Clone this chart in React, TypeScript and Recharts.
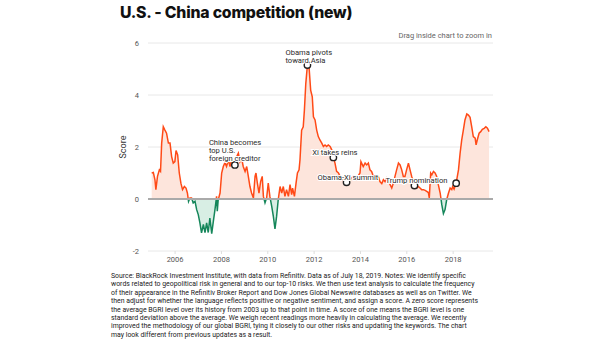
import {
  Area,
  CartesianGrid,
  ComposedChart,
  ReferenceDot,
  ReferenceLine,
  XAxis,
  YAxis,
} from 'recharts'

// decimal years
const years = [
  2004.99, 2005.06, 2005.13, 2005.17, 2005.24, 2005.32, 2005.37, 2005.42, 2005.49, 2005.56,
  2005.63, 2005.71, 2005.78, 2005.85, 2005.92, 2005.99, 2006.04, 2006.11, 2006.18, 2006.25,
  2006.32, 2006.4, 2006.47, 2006.53, 2006.58, 2006.64, 2006.71, 2006.78, 2006.86, 2006.93,
  2007.0, 2007.07, 2007.14, 2007.22, 2007.29, 2007.36, 2007.43, 2007.5, 2007.58, 2007.65,
  2007.72, 2007.79, 2007.82, 2007.86, 2007.94, 2008.01, 2008.08, 2008.15, 2008.22, 2008.3,
  2008.37, 2008.44, 2008.51, 2008.58, 2008.66, 2008.73, 2008.8, 2008.87, 2008.94, 2009.02,
  2009.09, 2009.16, 2009.23, 2009.3, 2009.38, 2009.45, 2009.49, 2009.55, 2009.62, 2009.69,
  2009.76, 2009.81, 2009.88, 2009.95, 2010.02, 2010.09, 2010.17, 2010.24, 2010.31, 2010.38,
  2010.45, 2010.53, 2010.6, 2010.67, 2010.74, 2010.81, 2010.89, 2010.96, 2011.03, 2011.07,
  2011.15, 2011.22, 2011.28, 2011.35, 2011.39, 2011.46, 2011.53, 2011.58, 2011.64, 2011.71,
  2011.78, 2011.85, 2011.92, 2011.97, 2012.04, 2012.11, 2012.18, 2012.25, 2012.33, 2012.4,
  2012.47, 2012.54, 2012.61, 2012.69, 2012.76, 2012.83, 2012.9, 2012.97, 2013.05, 2013.12,
  2013.19, 2013.4, 2013.55, 2013.69, 2013.84, 2013.98, 2014.02, 2014.12, 2014.2, 2014.27,
  2014.34, 2014.41, 2014.48, 2014.56, 2014.63, 2014.7, 2014.77, 2014.84, 2014.92, 2014.99,
  2015.06, 2015.13, 2015.2, 2015.28, 2015.35, 2015.42, 2015.49, 2015.56, 2015.64, 2015.71,
  2015.78, 2015.85, 2015.92, 2015.99, 2016.07, 2016.14, 2016.21, 2016.28, 2016.33, 2016.43,
  2016.5, 2016.57, 2016.64, 2016.72, 2016.79, 2016.86, 2016.93, 2016.97, 2017.03, 2017.08,
  2017.15, 2017.22, 2017.29, 2017.36, 2017.44, 2017.51, 2017.58, 2017.65, 2017.72, 2017.8,
  2017.87, 2017.94, 2017.98, 2018.04, 2018.13, 2018.23, 2018.3, 2018.37, 2018.44, 2018.51,
  2018.59, 2018.66, 2018.73, 2018.8, 2018.87, 2018.95, 2018.99, 2019.04, 2019.12, 2019.19,
  2019.26, 2019.34, 2019.41, 2019.48, 2019.55,
]

const scores = [
  1.0, 1.02, 0.74, 0.36, 0.87, 1.12, 1.06, 2.15, 2.78, 2.65,
  2.53, 2.15, 2.15, 1.63, 1.38, 1.44, 1.86, 1.7, 1.0, 0.61,
  0.36, 0.48, 0.42, 0.23, -0.09, 0.04, 0.04, -0.15, -0.09, -0.41,
  -0.6, -0.92, -1.3, -0.98, -1.29, -0.92, -1.29, -0.73, -1.33, -0.86,
  -0.41, 0.1, -0.47, -0.03, 0.23, 1.0, 1.25, 1.4, 1.25, 1.51,
  1.25, 1.51, 1.38, 1.31, 1.63, 1.76, 1.44, 1.57, 1.25, 1.06,
  1.25, 0.87, 0.48, 0.23, 0.04, 0.87, 1.0, 0.61, 0.23, 0.67,
  0.87, 0.1, -0.15, 0.04, 0.61, 0.1, -0.28, -0.67, -1.15, -0.67,
  -0.03, 0.48, 0.23, 0.48, 0.1, 0.36, 0.1, 0.55, 0.17, 0.42,
  0.1, 0.61, 1.0, 1.12, 1.51, 2.65, 2.78, 3.42, 4.44, 5.15,
  5.08, 4.19, 3.93, 3.16, 3.04, 2.65, 2.4, 2.27, 2.15, 2.02,
  2.08, 2.02, 2.08, 2.02, 1.89, 1.6, 1.38, 1.06, 1.0, 0.87,
  0.74, 0.64, 0.74, 0.87, 0.8, 1.0, 1.44, 1.25, 1.38, 1.31,
  1.38, 1.12, 1.06, 0.87, 0.87, 0.8, 0.87, 0.67, 0.59, 0.74,
  0.67, 0.8, 0.67, 0.55, 0.42, 0.61, 0.87, 1.12, 1.38, 1.31,
  1.12, 0.87, 0.87, 1.12, 1.38, 1.12, 0.87, 0.67, 0.52, 0.42,
  0.48, 0.42, 0.36, 0.36, 0.33, 0.29, 0.25, 0.04, 1.0, 0.93,
  1.06, 1.0, 0.87, 0.55, 0.23, -0.22, -0.56, -0.41, -0.03, 0.23,
  0.42, 0.36, 0.48, 0.38, 0.61, 1.12, 1.76, 2.27, 2.65, 3.04,
  3.27, 3.23, 3.14, 2.78, 2.4, 2.34, 2.08, 2.27, 2.53, 2.59,
  2.68, 2.72, 2.78, 2.72, 2.59,
]

const yearTicks = [2006, 2008, 2010, 2012, 2014, 2016, 2018]
const scoreTicks = [-2, 0, 2, 4, 6]

const eventYears = [2008.58, 2011.71, 2012.83, 2013.4, 2016.33, 2018.13]
const eventScores = [1.31, 5.15, 1.6, 0.64, 0.52, 0.61]
const eventLabels = [
  ['China becomes', 'top U.S.', 'foreign creditor'],
  ['Obama pivots', 'toward Asia'],
  ['Xi takes reins'],
  ['Obama-Xi summit'],
  ['Trump nomination'],
  [],
]
// label placement relative to the marker: [dx, first baseline dy]
const labelOffsets = [
  [-26, -19.5],
  [-22, -10.5],
  [-21, -2.5],
  [-29, -2.5],
  [-29, -2.7],
  [0, 0],
]

const footnote = [
  'Source: BlackRock Investment Institute, with data from Refinitiv. Data as of July 18, 2019. Notes: We identify specific',
  'words related to geopolitical risk in general and to our top-10 risks. We then use text analysis to calculate the frequency',
  'of their appearance in the Refinitiv Broker Report and Dow Jones Global Newswire databases as well as on Twitter. We',
  'then adjust for whether the language reflects positive or negative sentiment, and assign a score. A zero score represents',
  'the average BGRI level over its history from 2003 up to that point in time. A score of one means the BGRI level is one',
  'standard deviation above the average. We weigh recent readings more heavily in calculating the average. We recently',
  'improved the methodology of our global BGRI, tying it closely to our other risks and updating the keywords. The chart',
  'may look different from previous updates as a result.',
]

const UP = '#ff4a17'
const DOWN = '#15865a'
const FONT = 'Roboto, "Noto Sans", sans-serif'

const data = years.map((year, i) => ({ year, value: scores[i] }))
const maxV = Math.max(...scores)
const minV = Math.min(...scores)
const split = maxV / (maxV - minV)

function EventLabel({ viewBox, lines, dx, dy }: any) {
  if (!viewBox || lines.length === 0) return null
  const cx = viewBox.x + viewBox.width / 2
  const cy = viewBox.y + viewBox.height / 2
  return (
    <text
      x={cx + dx}
      y={cy + dy}
      fontSize={7.6}
      fontFamily={FONT}
      fill="#2a2a2a"
      stroke="#fff"
      strokeWidth={2}
      paintOrder="stroke"
    >
      {lines.map((l: string, i: number) => (
        <tspan key={i} x={cx + dx} dy={i === 0 ? 0 : 8}>
          {l}
        </tspan>
      ))}
    </text>
  )
}

export default function App() {
  return (
    <div style={{ position: 'absolute', left: 0, top: 0, width: 605, height: 341, background: '#fff', fontFamily: FONT }}>
      <div
        style={{
          position: 'absolute',
          left: 120,
          top: 3,
          fontFamily: 'Inter, Roboto, sans-serif',
          fontWeight: 800,
          fontSize: 15.8,
          color: '#111',
          letterSpacing: -0.2,
        }}
      >
        U.S. - China competition (new)
      </div>
      <div style={{ position: 'absolute', right: 113, top: 31, fontSize: 7.5, color: '#666' }}>
        Drag inside chart to zoom in
      </div>
      <div
        style={{
          position: 'absolute',
          left: 123,
          top: 147,
          transform: 'translate(-50%, -50%) rotate(-90deg)',
          fontSize: 9,
          color: '#333',
        }}
      >
        Score
      </div>
      <div style={{ position: 'absolute', left: 0, top: 0 }}>
        <ComposedChart width={605} height={270} data={data} margin={{ top: 43, right: 112, bottom: 0, left: 108 }}>
          <defs>
            <linearGradient id="strokeSplit" x1="0" y1="0" x2="0" y2="1">
              <stop offset={split} stopColor={UP} />
              <stop offset={split} stopColor={DOWN} />
            </linearGradient>
            <linearGradient id="fillSplit" x1="0" y1="0" x2="0" y2="1">
              <stop offset={split} stopColor="#fde5dc" />
              <stop offset={split} stopColor="#d8eee4" />
            </linearGradient>
          </defs>
          <CartesianGrid vertical={false} stroke="#e8e8e8" />
          <XAxis
            dataKey="year"
            type="number"
            domain={[2004.83, 2019.72]}
            ticks={yearTicks}
            axisLine={false}
            tickSize={3}
            tickLine={{ stroke: '#dddddd' }}
            tickMargin={3}
            height={19}
            tick={{ fontSize: 7.5, fill: '#555', fontFamily: FONT }}
          />
          <YAxis
            type="number"
            domain={[-2, 6]}
            ticks={scoreTicks}
            axisLine={false}
            tickLine={false}
            tickSize={0}
            tickMargin={9}
            width={40}
            tick={{ fontSize: 7.5, fill: '#555', fontFamily: FONT }}
          />
          <Area
            type="linear"
            dataKey="value"
            baseValue={0}
            stroke="url(#strokeSplit)"
            strokeWidth={1.5}
            fill="url(#fillSplit)"
            fillOpacity={1}
            dot={false}
            activeDot={false}
            isAnimationActive={false}
          />
          <ReferenceLine y={0} stroke="#aaaaaa" strokeWidth={1.8} />
          {eventYears.map((y, i) => (
            <ReferenceDot
              key={i}
              x={y}
              y={eventScores[i]}
              r={3.2}
              fill="#fff"
              stroke="#222"
              strokeWidth={1.4}
              label={<EventLabel lines={eventLabels[i]} dx={labelOffsets[i][0]} dy={labelOffsets[i][1]} />}
            />
          ))}
        </ComposedChart>
      </div>
      <div style={{ position: 'absolute', left: 111, top: 272, fontSize: 6.9, lineHeight: '8.4px', color: '#222' }}>
        {footnote.map((l, i) => (
          <div key={i} style={{ whiteSpace: 'nowrap' }}>
            {l}
          </div>
        ))}
      </div>
    </div>
  )
}
